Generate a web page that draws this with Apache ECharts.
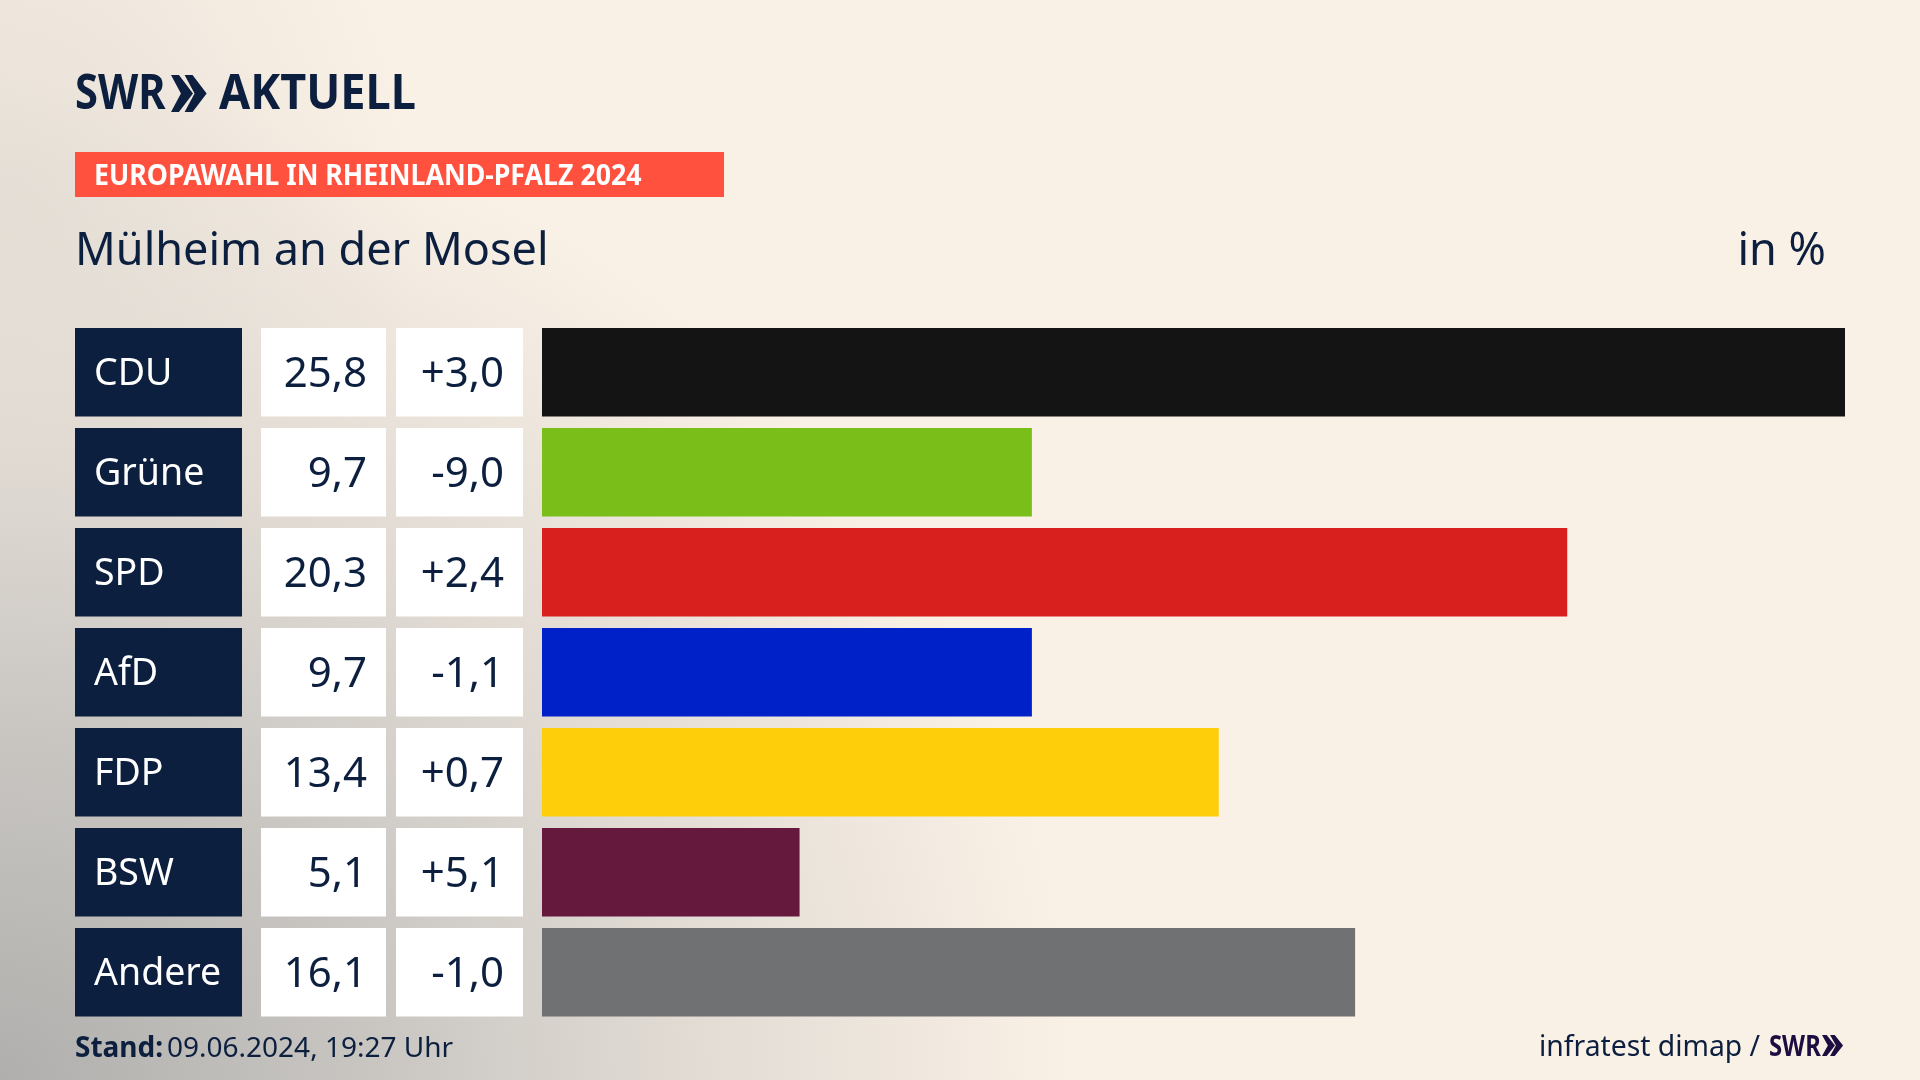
<!DOCTYPE html>
<html>
<head>
<meta charset="utf-8">
<script src="https://cdn.jsdelivr.net/npm/echarts@6/dist/echarts.min.js"></script>
<style>
html, body { margin: 0; padding: 0; }
body {
    width: 1920px; height: 1080px; overflow: hidden;
    background:
        radial-gradient(ellipse 1080px 1000px at 0 100%, #b0afad 0, #c9c6c2 35%, #e0dad3 62%, rgba(250,241,230,0) 100%),
        radial-gradient(ellipse 420px 500px at 0 20%, #e6dfd6 0, rgba(250,241,230,0) 100%),
        #faf1e6;
}
#chart { width: 1920px; height: 1080px; }
</style>
</head>
<body>
<div id="chart"></div>
<script>
const parties = ["CDU", "Grüne", "SPD", "AfD", "FDP", "BSW", "Andere"];
const shares = [25.8, 9.7, 20.3, 9.7, 13.4, 5.1, 16.1];
const changes = [3.0, -9.0, 2.4, -1.1, 0.7, 5.1, -1.0];
const partyColors = ["#141414", "#7abe1a", "#d8201e", "#0020c8", "#ffce0a", "#65193d", "#707173"];

const NAVY = "#0c1f3f";
const FONT = '"Noto Sans", sans-serif';

const fmtShare = v => v.toFixed(1).replace(".", ",");
const fmtChange = v => (v > 0 ? "+" : "") + v.toFixed(1).replace(".", ",");

// columns: name tile, share tile, change tile, bars
const columns = [
    { left: 75, width: 167, max: 1 },
    { left: 261, width: 125, max: 1 },
    { left: 396, width: 127, max: 1 },
    { left: 542, width: 1303, max: 25.8 }
];

function tileSeries(idx, color, textColor, position, distance, text, fontSize) {
    return {
        type: "bar",
        xAxisIndex: idx,
        yAxisIndex: idx,
        barWidth: 88.6,
        silent: true,
        data: parties.map(() => 1),
        itemStyle: { color: color },
        label: {
            show: true,
            position: position,
            distance: distance,
            offset: [0, 2.5],
            color: textColor,
            fontFamily: FONT,
            fontSize: fontSize,
            formatter: p => text[p.dataIndex]
        }
    };
}

function chevrons(x, top, bottom, w, color) {
    const mid = (top + bottom) / 2;
    const step = w * 0.62;
    return [x, x + step].map(cx => ({
        type: "polygon",
        silent: true,
        shape: {
            points: [[cx, top], [cx + w * 0.36, top], [cx + w, mid], [cx + w * 0.36, bottom], [cx, bottom], [cx + w * 0.45, mid]]
        },
        style: { fill: color }
    }));
}

function label(x, y, text, font, color, scaleX, align) {
    return {
        type: "text",
        silent: true,
        x: x,
        y: y,
        scaleX: scaleX || 1,
        style: { x: 0, y: 0, text: text, font: font, fill: color, textAlign: align || "left", textVerticalAlign: "bottom" }
    };
}

const chart = echarts.init(document.getElementById("chart"), null, { renderer: "canvas" });
chart.setOption({
    animation: false,
    backgroundColor: "transparent",
    grid: columns.map(c => ({ left: c.left, width: c.width, top: 322.3, height: 700 })),
    xAxis: columns.map((c, i) => ({ type: "value", gridIndex: i, min: 0, max: c.max, show: false })),
    yAxis: columns.map((c, i) => ({ type: "category", gridIndex: i, data: parties, inverse: true, show: false })),
    series: [
        tileSeries(0, NAVY, "#ffffff", "insideLeft", 19, parties, 37.5),
        tileSeries(1, "#ffffff", NAVY, "insideRight", 19, shares.map(fmtShare), 42),
        tileSeries(2, "#ffffff", NAVY, "insideRight", 19, changes.map(fmtChange), 42),
        {
            type: "bar",
            xAxisIndex: 3,
            yAxisIndex: 3,
            barWidth: 88.6,
            silent: true,
            data: shares.map((v, i) => ({ value: v, itemStyle: { color: partyColors[i] } }))
        }
    ],
    graphic: [
        label(75, 120, "SWR", '700 49px "Noto Sans"', NAVY, 0.85),
        ...chevrons(171, 75, 112, 22, NAVY),
        label(219, 120, "AKTUELL", '700 49px "Noto Sans"', NAVY, 0.92),
        { type: "rect", silent: true, shape: { x: 75, y: 152, width: 649, height: 45 }, style: { fill: "#ff513e" } },
        label(94, 191.5, "EUROPAWAHL IN RHEINLAND-PFALZ 2024", '700 28px "Noto Sans"', "#ffffff", 0.955),
        label(75, 274.5, "Mülheim an der Mosel", '400 45px "Noto Sans"', NAVY),
        label(1826, 274.5, "in %", '400 45px "Noto Sans"', NAVY, 1, "right"),
        label(75, 1063, "Stand:", '700 28px "Noto Sans"', NAVY),
        label(167, 1063, "09.06.2024, 19:27 Uhr", '400 28px "Noto Sans"', NAVY),
        label(1539, 1062, "infratest dimap /", '400 28.3px "Noto Sans"', NAVY),
        label(1769, 1062, "SWR", '700 28px "Noto Sans"', "#1c0e40", 0.85),
        ...chevrons(1822, 1035, 1056, 13, "#1c0e40")
    ]
});
</script>
</body>
</html>
